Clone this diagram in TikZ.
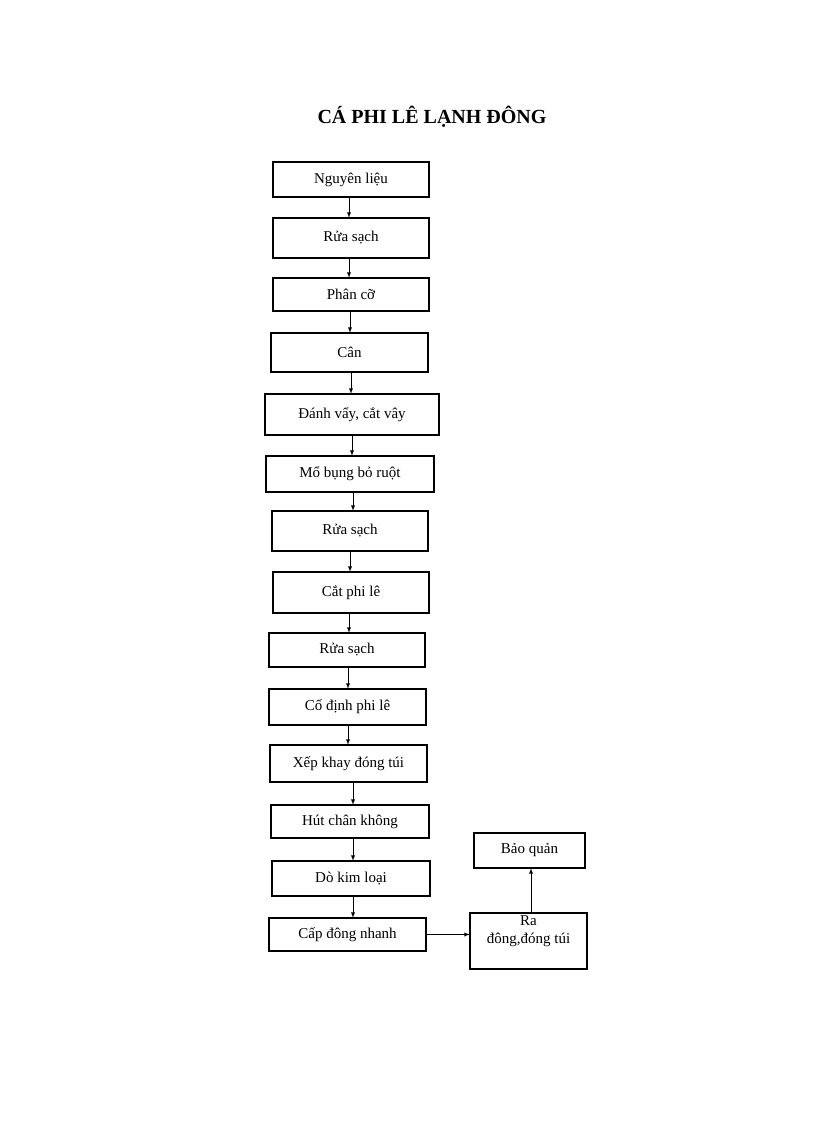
\documentclass[tikz,border=0pt]{standalone}
\usepackage{fontspec}
\setmainfont{Liberation Serif}
\begin{document}
\begin{tikzpicture}[x=1pt,y=-1pt,
  bx/.style={draw,line width=1.1pt,fill=white},
  ar/.style={-latex,line width=0.9pt}]
\useasboundingbox (0,0) rectangle (816,1123);
\node[font=\bfseries\fontsize{20}{24}\selectfont] (title) at (432,117) {CÁ PHI LÊ LẠNH ĐÔNG};
\newcommand{\bxx}[6]{\draw[bx] (#2,#3) rectangle (#4,#5);
  \node[font=\fontsize{15}{18}\selectfont,inner sep=0pt,minimum width=#4pt-#2pt,minimum height=#5pt-#3pt] (#1) at ({(#2+#4)/2},{(#3+#5)/2}) {#6};}
\bxx{b1}{273}{162}{429}{197}{Nguyên liệu}
\bxx{b2}{273}{218}{429}{258}{Rửa sạch}
\bxx{b3}{273}{278}{429}{311}{Phân cỡ}
\bxx{b4}{271}{333}{428}{372}{Cân}
\bxx{b5}{265}{394}{439}{435}{Đánh vẩy, cắt vây}
\bxx{b6}{266}{456}{434}{492}{Mổ bụng bỏ ruột}
\bxx{b7}{272}{511}{428}{551}{Rửa sạch}
\bxx{b8}{273}{572}{429}{613}{Cắt phi lê}
\bxx{b9}{269}{633}{425}{667}{Rửa sạch}
\bxx{b10}{269}{689}{426}{725}{Cố định phi lê}
\bxx{b11}{270}{745}{427}{782}{Xếp khay đóng túi}
\bxx{b12}{271}{805}{429}{838}{Hút chân không}
\bxx{b13}{272}{861}{430}{896}{Dò kim loại}
\bxx{b14}{269}{918}{426}{951}{Cấp đông nhanh}
\bxx{b16}{474}{833}{585}{868}{Bảo quản}
\draw[bx] (470,913) rectangle (587,969);
\node[font=\fontsize{15}{18}\selectfont,align=center,inner sep=0pt,minimum width=117pt,minimum height=56pt] (b15) at (528.5,941) {};
\node[font=\fontsize{15}{18}\selectfont,align=center,anchor=north] (b15t) at (528.5,912) {Ra\\đông,đóng túi};
\foreach \a/\b/\x in {b1/b2/349,b2/b3/349,b3/b4/350,b4/b5/351,b5/b6/352,b6/b7/353,b7/b8/350,b8/b9/349,b9/b10/348,b10/b11/348,b11/b12/353,b12/b13/353,b13/b14/353}
  \draw[ar] (\a.south -| \x,0) -- (\b.north -| \x,0);
\draw[ar] (b14.east) -- (b15.west |- b14.east);
\draw[ar] (b15.north -| 531,0) -- (b16.south -| 531,0);
\end{tikzpicture}
\end{document}
